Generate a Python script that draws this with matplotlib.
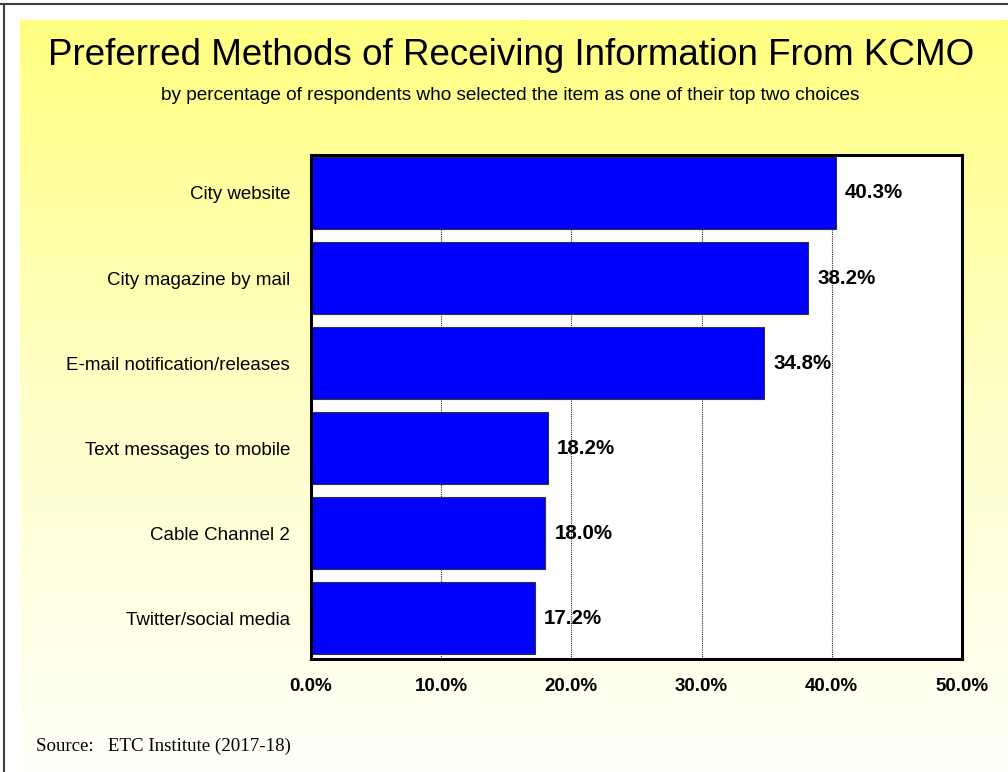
import numpy as np
import matplotlib
matplotlib.use('Agg')
import matplotlib.pyplot as plt
from matplotlib.colors import LinearSegmentedColormap

plt.rcParams['font.family'] = ['Liberation Sans', 'DejaVu Sans']

categories = ['City website', 'City magazine by mail', 'E-mail notification/releases',
              'Text messages to mobile', 'Cable Channel 2', 'Twitter/social media']
values = [40.3, 38.2, 34.8, 18.2, 18.0, 17.2]
xticks = [0, 10, 20, 30, 40, 50]
xtick_labels = ['0.0%', '10.0%', '20.0%', '30.0%', '40.0%', '50.0%']

W, H = 1008, 772
fig = plt.figure(figsize=(W / 100, H / 100), dpi=100)
fig.patch.set_facecolor('white')

# background: yellow to white gradient box + frame lines
bg = fig.add_axes([0, 0, 1, 1], zorder=0)
bg.set_xlim(0, W)
bg.set_ylim(H, 0)
bg.axis('off')
grad = np.linspace(0, 1, 256).reshape(-1, 1)
cmap = LinearSegmentedColormap.from_list('yw', ['#FFFF80', '#FFFFC8', '#FFFFFA'])
bg.imshow(grad, cmap=cmap, aspect='auto', extent=[20, W, H, 20])
bg.plot([0, W], [4, 4], color='#404040', lw=1.5)
bg.plot([4, 4], [4, H], color='#404040', lw=1.5)

bg.text(511, 65, 'Preferred Methods of Receiving Information From KCMO',
        ha='center', va='baseline', fontsize=26.5)
bg.text(510, 100, 'by percentage of respondents who selected the item as one of their top two choices',
        ha='center', va='baseline', fontsize=13.7)
bg.text(36, 746, 'Source:   ETC Institute (2017-18)', ha='left', va='center',
        fontsize=13.6, family=['Liberation Serif', 'DejaVu Serif'])

ax = fig.add_axes([311 / W, 1 - 659 / H, 651 / W, 504 / H], zorder=1)
ax.set_facecolor('white')
y = np.arange(len(categories))
ax.barh(y, values, height=0.847, color='#0000FF', edgecolor='#333333', linewidth=0.8, zorder=2)
ax.set_xlim(0, 50)
ax.set_ylim(5.482, -0.447)
ax.set_xticks(xticks)
ax.set_xticklabels(xtick_labels, fontsize=13.5, fontweight='bold')
ax.set_yticks(y)
ax.set_yticklabels(categories, fontsize=13.5)
ax.tick_params(axis='both', length=0)
ax.tick_params(axis='x', pad=13.5)
ax.tick_params(axis='y', pad=15)
for t in [10, 20, 30, 40]:
    ax.axvline(t, color='#222222', lw=0.8, ls=(0, (1, 1)), zorder=1)
for s in ax.spines.values():
    s.set_linewidth(2.2)
    s.set_color('black')

for yi, v in zip(y, values):
    ax.text(v + 0.7, yi, f'{v:.1f}%', ha='left', va='center', fontsize=14.8,
            fontweight='bold', zorder=3)

fig.savefig('out.png', dpi=100, facecolor=fig.get_facecolor())
